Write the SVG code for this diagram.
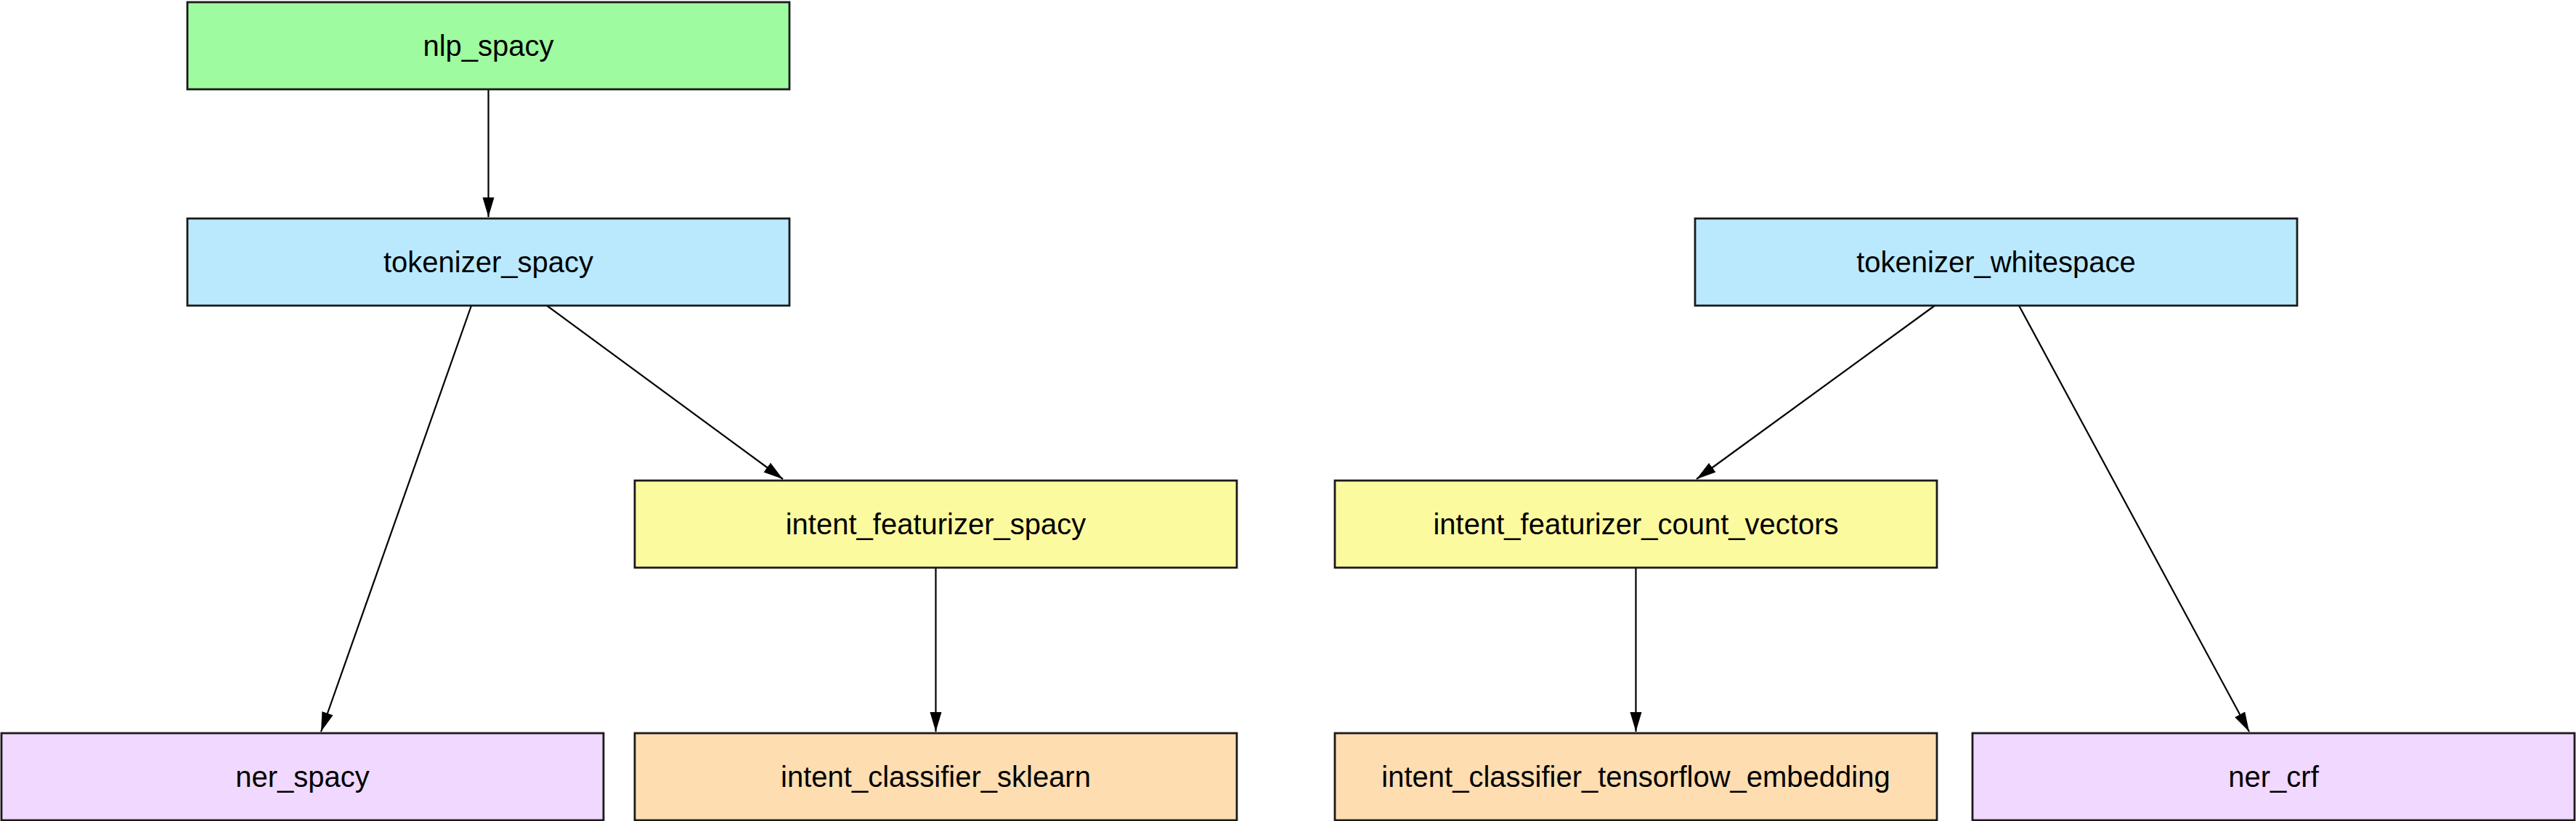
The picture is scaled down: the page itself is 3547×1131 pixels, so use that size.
<svg xmlns="http://www.w3.org/2000/svg" width="3547" height="1131" viewBox="0 0 3547 1131">
<style>
.box{stroke:#1a1a1a;stroke-width:2.8}
.lbl{font-family:"Liberation Sans",Arial,sans-serif;font-size:40px;fill:#000;text-anchor:middle}
.edge{stroke:#000;stroke-width:2.2;fill:none}
.green{fill:#9ffb9f}
.blue{fill:#bae9fe}
.yellow{fill:#fcfa9f}
.orange{fill:#feddb1}
.purple{fill:#f1d8fe}
</style>
<defs>
<marker id="arr" markerUnits="userSpaceOnUse" markerWidth="30" markerHeight="20" refX="27" refY="10" orient="auto">
<path d="M0,2 L27,10 L0,18 z" fill="#000"/>
</marker>
</defs>
<rect width="3547" height="1131" fill="#fff"/>
<g id="connectors">
<line class="edge" x1="672.5" y1="123" x2="672.5" y2="299" marker-end="url(#arr)"/>
<line class="edge" x1="649" y1="421" x2="442" y2="1008" marker-end="url(#arr)"/>
<line class="edge" x1="753" y1="421" x2="1078" y2="660" marker-end="url(#arr)"/>
<line class="edge" x1="1288.5" y1="782" x2="1288.5" y2="1008" marker-end="url(#arr)"/>
<line class="edge" x1="2664" y1="421" x2="2336" y2="660" marker-end="url(#arr)"/>
<line class="edge" x1="2780" y1="421" x2="3097" y2="1008" marker-end="url(#arr)"/>
<line class="edge" x1="2252.5" y1="782" x2="2252.5" y2="1008" marker-end="url(#arr)"/>
</g>
<g id="nlp_spacy"><rect class="box green" x="258" y="3" width="829" height="120"/><text class="lbl" x="672.5" y="77">nlp_spacy</text></g>
<g id="tokenizer_spacy"><rect class="box blue" x="258" y="301" width="829" height="120"/><text class="lbl" x="672.5" y="375">tokenizer_spacy</text></g>
<g id="tokenizer_whitespace"><rect class="box blue" x="2334" y="301" width="829" height="120"/><text class="lbl" x="2748.5" y="375">tokenizer_whitespace</text></g>
<g id="intent_featurizer_spacy"><rect class="box yellow" x="874" y="662" width="829" height="120"/><text class="lbl" x="1288.5" y="736">intent_featurizer_spacy</text></g>
<g id="intent_featurizer_count_vectors"><rect class="box yellow" x="1838" y="662" width="829" height="120"/><text class="lbl" x="2252.5" y="736">intent_featurizer_count_vectors</text></g>
<g id="ner_spacy"><rect class="box purple" x="2" y="1010" width="829" height="120"/><text class="lbl" x="416.5" y="1084">ner_spacy</text></g>
<g id="intent_classifier_sklearn"><rect class="box orange" x="874" y="1010" width="829" height="120"/><text class="lbl" x="1288.5" y="1084">intent_classifier_sklearn</text></g>
<g id="intent_classifier_tensorflow_embedding"><rect class="box orange" x="1838" y="1010" width="829" height="120"/><text class="lbl" x="2252.5" y="1084">intent_classifier_tensorflow_embedding</text></g>
<g id="ner_crf"><rect class="box purple" x="2716" y="1010" width="829" height="120"/><text class="lbl" x="3130.5" y="1084">ner_crf</text></g>
</svg>
